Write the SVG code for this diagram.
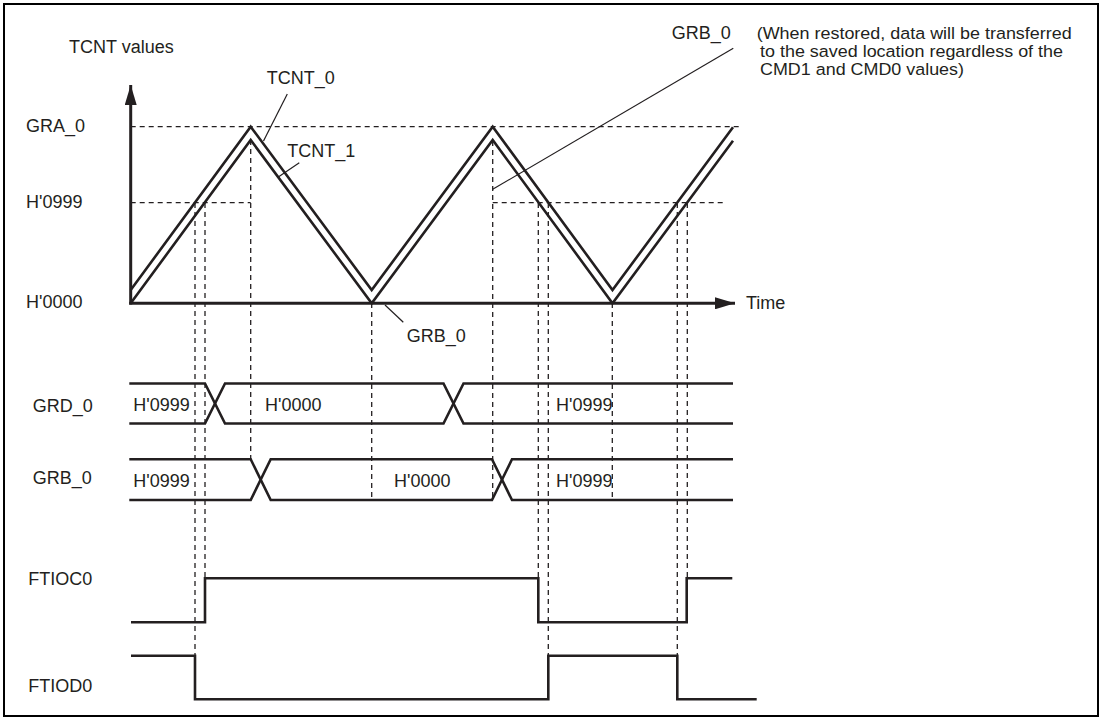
<svg xmlns="http://www.w3.org/2000/svg" width="1103" height="718" viewBox="0 0 1103 718">
<style>
text{font-family:"Liberation Sans",Arial,Helvetica,sans-serif;font-size:18px;fill:#231f20}
.note{font-size:17.4px}
.sig{fill:none;stroke:#231f20;stroke-width:2.6;stroke-linejoin:miter}
.dash{fill:none;stroke:#231f20;stroke-width:1.3;stroke-dasharray:5,4}
.lead{fill:none;stroke:#231f20;stroke-width:1.2}
.ax{fill:none;stroke:#231f20;stroke-width:3}
</style>
<defs>
<marker id="arr" viewBox="0 0 20 12" refX="20" refY="6" markerWidth="20" markerHeight="12" markerUnits="userSpaceOnUse" orient="auto">
<path d="M0,0 L20,6 L0,12 Z" fill="#231f20"/>
</marker>
</defs>
<rect x="4" y="4" width="1094" height="712" fill="#fff" stroke="#000" stroke-width="2"/>

<g id="connectors">
<line class="dash" x1="130.7" y1="126.7" x2="740" y2="126.7"/>
<line class="dash" x1="130.7" y1="202.7" x2="250.7" y2="202.7"/>
<line class="dash" x1="492.7" y1="202.7" x2="725" y2="202.7"/>
<line class="dash" x1="195" y1="203" x2="195" y2="655.7"/>
<line class="dash" x1="205" y1="203" x2="205" y2="578.3"/>
<line class="dash" x1="250.7" y1="140" x2="250.7" y2="459.3"/>
<line class="dash" x1="371.7" y1="303" x2="371.7" y2="500"/>
<line class="dash" x1="492.7" y1="141" x2="492.7" y2="500"/>
<line class="dash" x1="538.3" y1="203" x2="538.3" y2="578.3"/>
<line class="dash" x1="548.3" y1="203" x2="548.3" y2="655.7"/>
<line class="dash" x1="612.3" y1="303" x2="612.3" y2="500"/>
<line class="dash" x1="677.3" y1="203" x2="677.3" y2="655.7"/>
<line class="dash" x1="687.3" y1="203" x2="687.3" y2="578.3"/>
<line class="ax" x1="130.7" y1="304.5" x2="130.7" y2="85" marker-end="url(#arr)"/>
<line class="ax" x1="129.2" y1="303.3" x2="735" y2="303.3" marker-end="url(#arr)"/>
<line class="lead" x1="287.3" y1="94" x2="263.5" y2="141"/>
<line class="lead" x1="299.3" y1="162.7" x2="278.3" y2="177"/>
<line class="lead" x1="385" y1="305" x2="403.3" y2="322.3"/>
<line class="lead" x1="733.3" y1="48.3" x2="492.7" y2="189.3"/>
</g>

<g id="tcnt0">
<polyline class="sig" points="130.7,290 250.7,126.7 371.7,290 492.7,126.7 612.5,290 733,127.3"/>
<text x="266.7" y="84">TCNT_0</text>
</g>
<g id="tcnt1">
<polyline class="sig" points="130.7,303.3 250.7,140 371.7,303.3 492.7,140 612.5,303.3 733,140.7"/>
<text x="287.3" y="156.7">TCNT_1</text>
</g>

<g id="axis-labels">
<text x="69" y="53">TCNT values</text>
<text x="26" y="131.7">GRA_0</text>
<text x="26" y="207.7">H'0999</text>
<text x="26" y="308.3">H'0000</text>
<text x="746" y="309.3">Time</text>
<text x="406.7" y="341.7">GRB_0</text>
</g>

<g id="note">
<text x="671.7" y="39">GRB_0</text>
<text class="note" x="756.7" y="39" textLength="315" lengthAdjust="spacingAndGlyphs">(When restored, data will be transferred</text>
<text class="note" x="760" y="57" textLength="303" lengthAdjust="spacingAndGlyphs">to the saved location regardless of the</text>
<text class="note" x="760" y="75" textLength="204" lengthAdjust="spacingAndGlyphs">CMD1 and CMD0 values)</text>
</g>

<g id="grd0">
<text x="32.7" y="411.7">GRD_0</text>
<path class="sig" d="M129.3,383.5 H205 L225,423.5 H443.5 L463.5,383.5 H733"/>
<path class="sig" d="M129.3,423.5 H205 L225,383.5 H443.5 L463.5,423.5 H733"/>
<text x="133.3" y="411">H'0999</text>
<text x="265" y="411">H'0000</text>
<text x="556" y="411">H'0999</text>
</g>

<g id="grb0">
<text x="32.7" y="484.3">GRB_0</text>
<path class="sig" d="M129.3,459.3 H250.7 L270.7,500 H492 L512,459.3 H733"/>
<path class="sig" d="M129.3,500 H250.7 L270.7,459.3 H492 L512,500 H733"/>
<text x="133.3" y="487">H'0999</text>
<text x="394" y="487">H'0000</text>
<text x="556" y="487">H'0999</text>
</g>

<g id="ftioc0">
<text x="28.3" y="585">FTIOC0</text>
<path class="sig" d="M131,622.3 H205 V578.3 H538.3 V622.3 H686.7 V578.3 H732.3"/>
</g>

<g id="ftiod0">
<text x="28.3" y="691.7">FTIOD0</text>
<path class="sig" d="M131,655.7 H195 V699.3 H548.3 V655.7 H677.3 V699.3 H756.7"/>
</g>
</svg>
